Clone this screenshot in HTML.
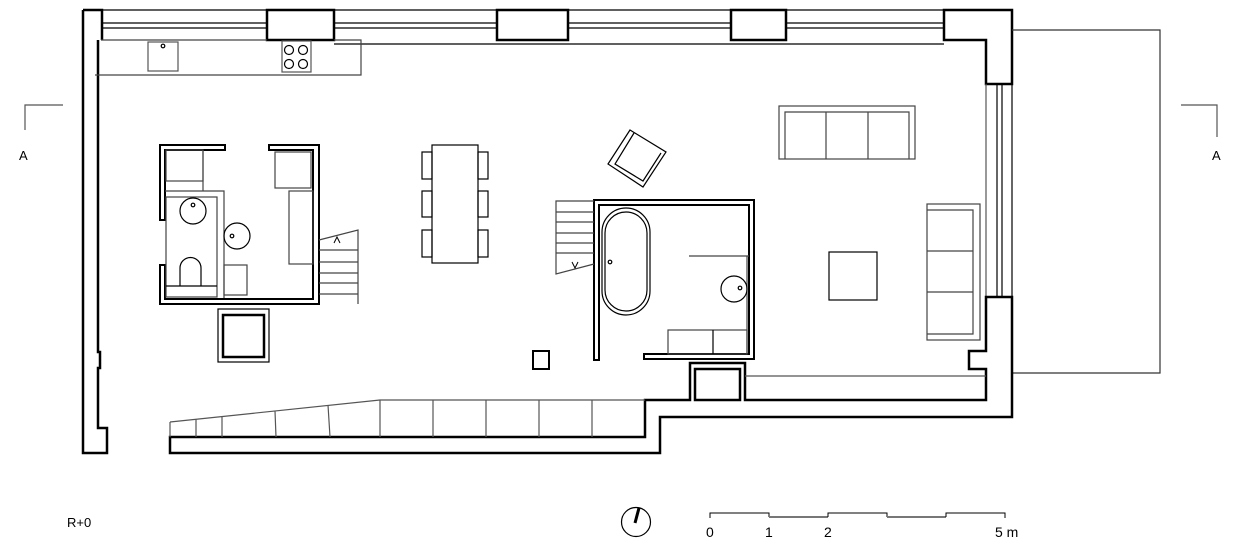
<!DOCTYPE html>
<html><head><meta charset="utf-8"><style>
html,body{margin:0;padding:0;background:#fff;}
svg{display:block;}
text{font-family:"Liberation Sans",sans-serif;fill:#000;}
</style></head><body>
<svg width="1237" height="555" viewBox="0 0 1237 555" xmlns="http://www.w3.org/2000/svg">
<g fill="none" stroke="#000" stroke-width="1.2">
<!-- left wall -->
<path d="M83,10 H102 V40 M83,10 V453 H107 V428 H98 V368 H100 V352 H98 V40" stroke-width="2.5"/>
<!-- top window strip -->
<line x1="102" y1="10" x2="944" y2="10"/>
<line x1="102" y1="23" x2="944" y2="23"/>
<line x1="102" y1="28" x2="944" y2="28"/>
<line x1="334" y1="44" x2="944" y2="44"/>
<rect x="267" y="10" width="67" height="30" stroke-width="2.5" fill="#fff"/>
<rect x="497" y="10" width="71" height="30" stroke-width="2.5" fill="#fff"/>
<rect x="731" y="10" width="55" height="30" stroke-width="2.5" fill="#fff"/>
<path d="M944,10 H1012 V84 H986 V40 H944 Z" stroke-width="2.5" fill="#fff"/>
<!-- right window -->
<line x1="986" y1="84" x2="986" y2="297" stroke="#555"/>
<line x1="997" y1="84" x2="997" y2="297"/>
<line x1="1002" y1="84" x2="1002" y2="297"/>
<line x1="1012" y1="84" x2="1012" y2="297"/>
<!-- terrace -->
<path d="M1012,30 H1160 V373 H1012" stroke="#333"/>
<!-- right/bottom walls -->
<path d="M986,297 H1012 V417 H660 V453 H170 V437 H645 V400 H690 V363 H745 V400 H986 V369 H969 V351 H986 Z" stroke-width="2.5"/>
<rect x="695" y="369" width="45" height="31" stroke-width="2.5"/>
<line x1="745" y1="376" x2="986" y2="376" stroke="#555"/>
<!-- ramp / steps -->
<path d="M170,422 L380,400 H645" stroke="#555"/>
<line x1="170" y1="422" x2="170" y2="437" stroke="#555"/>
<g stroke="#555">
<line x1="196" y1="419" x2="196" y2="437"/><line x1="222" y1="416" x2="222" y2="437"/>
<line x1="275" y1="411" x2="276" y2="437"/><line x1="328" y1="405" x2="330" y2="437"/>
<line x1="380" y1="400" x2="380" y2="437"/><line x1="433" y1="400" x2="433" y2="437"/>
<line x1="486" y1="400" x2="486" y2="437"/><line x1="539" y1="400" x2="539" y2="437"/>
<line x1="592" y1="400" x2="592" y2="437"/>
</g>
<!-- kitchen -->
<path d="M101,40 H267 M334,40 H361 V75 H95" stroke="#444"/>
<rect x="148" y="42" width="30" height="29" stroke="#555"/>
<circle cx="163" cy="46" r="1.8"/>
<rect x="282" y="41" width="29" height="31" stroke="#555"/>
<circle cx="289" cy="50" r="4.5"/><circle cx="303" cy="50" r="4.5"/>
<circle cx="289" cy="64" r="4.5"/><circle cx="303" cy="64" r="4.5"/>
<!-- WC block -->
<path d="M225,145 H160 V220 H165 V150 H225 Z" stroke-width="2" fill="#fff"/>
<path d="M160,265 V304 H319 V145 H269 V150 H313 V299 H165 V265 Z" stroke-width="2" fill="#fff"/>
<rect x="166" y="150" width="37" height="31" stroke="#444"/>
<path d="M165,191 H224 V298 M203,150 V191" stroke="#444"/>
<rect x="166" y="197" width="51" height="100" stroke="#444"/>
<circle cx="193" cy="211" r="13"/><circle cx="193" cy="205" r="1.8"/>
<path d="M180,286 V268 A10.5,10.5 0 0 1 201,268 V286"/>
<line x1="166" y1="286" x2="217" y2="286"/>
<circle cx="237" cy="236" r="13"/><circle cx="232" cy="236" r="1.8"/>
<rect x="224" y="265" width="23" height="30" stroke="#444"/>
<rect x="275" y="152" width="36" height="36" stroke="#444"/>
<rect x="289" y="191" width="24" height="73" stroke="#444"/>
<!-- stairs left -->
<path d="M319,240 L358,230 V304 M319,250 H358 M319,262 H358 M319,273 H358 M319,283 H358 M319,294 H358" stroke="#444"/>
<path d="M334,243 L337,237 L340,243" stroke-width="1"/>
<!-- vent box -->
<rect x="218" y="309" width="51" height="53"/>
<rect x="223" y="315" width="41" height="42" stroke-width="2.5"/>
<!-- dining -->
<rect x="432" y="145" width="46" height="118"/>
<rect x="422" y="152" width="10" height="27"/><rect x="422" y="191" width="10" height="26"/><rect x="422" y="230" width="10" height="27"/>
<rect x="478" y="152" width="10" height="27"/><rect x="478" y="191" width="10" height="26"/><rect x="478" y="230" width="10" height="27"/>
<!-- armchair -->
<polygon points="630,130 666,152 643,187 608,164"/>
<polyline points="634,133 615,164 643,181 661,153"/>
<!-- bath block -->
<path d="M594,360 V200 H754 V359 H644 V354 H749 V205 H599 V360 Z" stroke-width="2" fill="#fff"/>
<rect x="602" y="208" width="48" height="107" rx="24"/>
<rect x="605" y="212" width="42" height="99" rx="21"/>
<circle cx="610" cy="262" r="1.8"/>
<path d="M689,256 H749 M747,256 V354" stroke="#444"/>
<circle cx="734" cy="289" r="13"/><circle cx="740" cy="288" r="1.8"/>
<rect x="668" y="330" width="79" height="24" stroke="#444"/>
<line x1="713" y1="330" x2="713" y2="354"/>
<!-- stairs middle -->
<path d="M594,201 H556 V274 L594,264 M556,212 H594 M556,222 H594 M556,233 H594 M556,243 H594 M556,253 H594" stroke="#444"/>
<path d="M572,262 L575,268 L578,262" stroke-width="1"/>
<!-- pillar -->
<rect x="533" y="351" width="16" height="18" stroke-width="2"/>
<!-- sofa top -->
<rect x="779" y="106" width="136" height="53" stroke="#444"/>
<path d="M785,159 V112 H909 V159 M826,112 V159 M868,112 V159" stroke="#444"/>
<!-- sofa right -->
<rect x="927" y="204" width="53" height="136" stroke="#444"/>
<path d="M927,210 H973 V334 H927 M927,251 H973 M927,292 H973" stroke="#444"/>
<!-- coffee table -->
<rect x="829" y="252" width="48" height="48"/>
<!-- section marks -->
<path d="M25,130 V105 H63" stroke="#555"/>
<path d="M1181,105 H1217 V137" stroke="#555"/>
<!-- scale -->
<path d="M710,518 V513 H769 V517 M769,517 H828" stroke-width="1"/>
<path d="M769,517 H828" stroke="#777" stroke-width="2"/>
<path d="M828,517 V513 H887 V517" stroke-width="1"/>
<path d="M887,517 H946" stroke="#777" stroke-width="2"/>
<path d="M946,517 V513 H1005 V518" stroke-width="1"/>
<!-- compass -->
<circle cx="636" cy="522" r="14.5" stroke-width="1.2"/>
<line x1="639" y1="508" x2="635" y2="523" stroke-width="3"/>
</g>
<text x="19" y="160" font-size="13">A</text>
<text x="1212" y="160" font-size="13">A</text>
<text x="67" y="527" font-size="13">R+0</text>
<text x="706" y="537" font-size="14">0</text>
<text x="765" y="537" font-size="14">1</text>
<text x="824" y="537" font-size="14">2</text>
<text x="995" y="537" font-size="14">5 m</text>
</svg>
</body></html>
